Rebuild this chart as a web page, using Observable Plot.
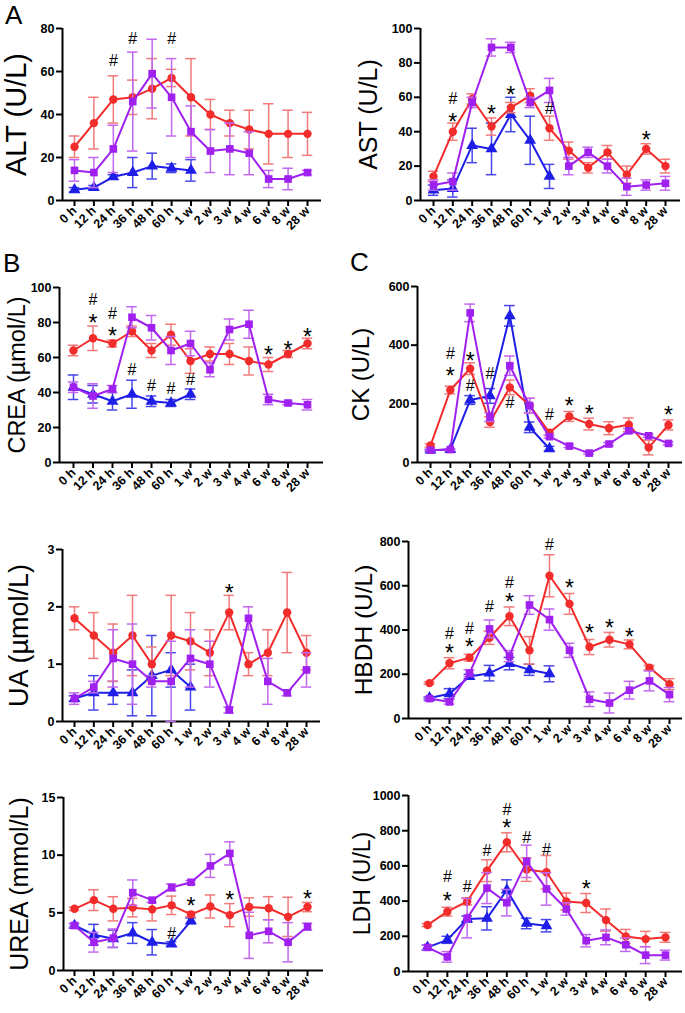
<!DOCTYPE html>
<html><head><meta charset="utf-8">
<script src="https://cdn.jsdelivr.net/npm/d3@7"></script>
<script src="https://cdn.jsdelivr.net/npm/@observablehq/plot@0.6"></script>
<style>
body{margin:0;background:#fff;width:685px;height:1013px;position:relative;overflow:hidden;font-family:"Liberation Sans",Arial,sans-serif}
.panel{position:absolute}
.letter{position:absolute;font-size:26px;line-height:1;color:#000}
.panel g[aria-label$="tick label"] text{font-weight:bold}
</style></head>
<body>
<div class="letter" style="left:5px;top:2px">A</div>
<div class="letter" style="left:3px;top:250px">B</div>
<div class="letter" style="left:350px;top:249px">C</div>
<script>
const categories = ["0 h","12 h","24 h","36 h","48 h","60 h","1 w","2 w","3 w","4 w","6 w","8 w","28 w"];

// ALT
const altRed = [25,36,47,48,52,57,48,40,36,33,31,31,31];
const altRedSD = [5,12,11,8,14,4,18,7,6,9,14,11,10];
const altPurple = [14,13,24,46,59,48,32,23,24,22,10,10,13];
const altPurpleSD = [5,7,11,23,16,18,12,10,12,10,4,5,1];
const altBlue = [5,6,11,13,16,15,14];
const altBlueSD = [1,1,1,7,6,2,5];
const altMarks = [["24 h",65,"#"],["36 h",75,"#"],["60 h",75,"#"]];

// AST
const astRed = [14,40,59,43,54,61,42,29,19,28,15,30,20];
const astRedSD = [3,5,3,5,3,4,7,5,3,4,5,3,4];
const astPurple = [9,11,57,89,89,57,64,20,28,20,8,9,10];
const astPurpleSD = [3,5,3,5,3,3,7,5,3,4,5,3,4];
const astBlue = [6,7,32,30,50,35,14];
const astBlueSD = [3,5,10,15,10,14,7];
const astMarks = [["12 h",59,"#"],["12 h",48,"*"],["36 h",53,"*"],["48 h",64,"*"],["1 w",53,"#"],["8 w",38,"*"]];

// CREA
const creaRed = [64,71,68,75,64,73,58,62,62,58,56,62,68];
const creaRedSD = [3,7,2,3,4,6,7,4,6,8,4,2,3];
const creaPurple = [43,38,42,83,77,64,68,53,76,79,36,34,33];
const creaPurpleSD = [3,7,2,6,7,8,7,4,6,8,3,1,3];
const creaBlue = [43,39,35,39,35,34,39];
const creaBlueSD = [7,5,5,8,3,2,3];
const creaMarks = [["12 h",93,"#"],["12 h",82,"*"],["24 h",85,"#"],["24 h",75,"*"],["36 h",53,"#"],["48 h",44,"#"],["60 h",42,"#"],["1 w",47,"#"],["6 w",64,"*"],["8 w",67,"*"],["28 w",74,"*"]];

// CK
const ckRed = [58,247,320,138,256,194,102,157,131,117,129,51,128];
const ckRedSD = [6,13,20,18,25,25,10,17,20,22,23,25,17];
const ckPurple = [42,44,510,155,330,194,88,56,32,63,108,91,65];
const ckPurpleSD = [3,3,30,15,33,25,5,5,4,5,8,5,5];
const ckBlue = [42,44,213,227,500,120,47];
const ckBlueSD = [3,3,15,25,35,18,8];
const ckMarks = [["12 h",372,"#"],["12 h",311,"*"],["24 h",361,"*"],["24 h",260,"#"],["36 h",302,"#"],["48 h",202,"#"],["1 w",163,"#"],["2 w",208,"*"],["3 w",179,"*"],["28 w",177,"*"]];

// UA
const uaRed = [1.8,1.5,1.2,1.5,1.0,1.5,1.4,1.2,1.9,1.0,1.2,1.9,1.2];
const uaRedSD = [0.2,0.4,0.5,0.7,0.3,0.7,0.5,0.4,0.3,0.2,0.4,0.7,0.3];
const uaPurple = [0.4,0.6,1.1,1.0,0.7,0.7,1.1,1.0,0.2,1.8,0.7,0.5,0.9];
const uaPurpleSD = [0.1,0.1,0.5,0.7,0.1,0.7,0.5,0.4,0.05,0.2,0.4,0.05,0.3];
const uaBlue = [0.4,0.5,0.5,0.5,0.8,0.9,0.6];
const uaBlueSD = [0.05,0.3,0.2,0.4,0.7,0.3,0.4];
const uaMarks = [["3 w",2.32,"*"]];

// HBDH
const hbdhRed = [160,250,275,365,462,308,645,518,323,356,335,230,155];
const hbdhRedSD = [5,25,15,30,42,62,95,47,34,33,20,10,25];
const hbdhPurple = [90,75,205,405,282,513,447,308,87,70,128,170,108];
const hbdhPurpleSD = [5,10,15,40,25,42,48,32,33,45,40,45,32];
const hbdhBlue = [93,112,190,205,248,220,202];
const hbdhBlueSD = [5,23,10,35,28,25,36];
const hbdhMarks = [["12 h",383,"#"],["12 h",315,"*"],["24 h",405,"#"],["24 h",341,"*"],["36 h",506,"#"],["48 h",611,"#"],["48 h",545,"*"],["1 w",785,"#"],["2 w",611,"*"],["3 w",405,"*"],["4 w",431,"*"],["6 w",390,"*"]];

// UREA
const ureaRed = [5.35,6.1,5.35,5.45,5.3,5.65,4.87,5.55,4.8,5.5,5.4,4.65,5.5];
const ureaRedSD = [0.15,0.9,1.05,0.8,1.0,0.8,0.2,1.0,1.0,0.8,1.0,1.7,0.4];
const ureaPurple = [3.9,2.45,2.8,6.75,6.1,7.2,7.65,9.07,10.15,3.05,3.4,2.45,3.8];
const ureaPurpleSD = [0.2,0.85,0.8,1.1,0.2,0.3,0.15,1.0,1.0,2.0,1.0,1.7,0.3];
const ureaBlue = [3.9,3.1,2.75,3.25,2.45,2.3,4.3];
const ureaBlueSD = [0.15,0.9,0.75,0.9,1.1,0.2,0.25];
const ureaMarks = [["60 h",3.2,"#"],["1 w",5.95,"*"],["3 w",6.45,"*"],["28 w",6.6,"*"]];

// LDH
const ldhRed = [264,340,398,573,734,579,564,398,389,292,199,184,194];
const ldhRedSD = [9,25,20,62,54,67,95,48,54,63,40,44,28];
const ldhPurple = [137,83,303,474,391,626,469,355,175,194,152,93,93];
const ldhPurpleSD = [13,30,112,88,75,92,92,35,35,42,38,48,28];
const ldhBlue = [137,180,298,302,463,273,260];
const ldhBlueSD = [13,20,17,66,58,30,35];
const ldhMarks = [["12 h",539,"#"],["12 h",425,"*"],["24 h",478,"#"],["36 h",683,"#"],["48 h",918,"#"],["48 h",839,"*"],["60 h",759,"#"],["1 w",690,"#"],["3 w",493,"*"]];

const COLORS = {red:"#f22b2b", purple:"#a020f0", blue:"#1e1ee6"};
const ERRCOLORS = {red:"#f27a7a", purple:"#c268f0", blue:"#4646ea"};
const SYMBOLS = {red:"circle", purple:"square", blue:"triangle"};

const panels = [
  {label:"ALT (U/L)", left:0, width:340, axisX:62, x0:74, x1:307, xEnd:321, yTop:28, yBottom:200, ymax:80, ticks:[0,20,40,60,80], titleX:16, titleSize:29,
   red:altRed, redSD:altRedSD, purple:altPurple, purpleSD:altPurpleSD, blue:altBlue, blueSD:altBlueSD, marks:altMarks},
  {label:"AST (U/L)", left:340, width:345, axisX:420, x0:433, x1:665, xEnd:680, yTop:28, yBottom:200, ymax:100, ticks:[0,20,40,60,80,100], titleX:368, titleSize:25,
   red:astRed, redSD:astRedSD, purple:astPurple, purpleSD:astPurpleSD, blue:astBlue, blueSD:astBlueSD, marks:astMarks},
  {label:"CREA (µmol/L)", left:0, width:340, axisX:59, x0:73, x1:307, xEnd:323, yTop:287, yBottom:462, ymax:100, ticks:[0,20,40,60,80,100], titleX:17, titleSize:23.5,
   red:creaRed, redSD:creaRedSD, purple:creaPurple, purpleSD:creaPurpleSD, blue:creaBlue, blueSD:creaBlueSD, marks:creaMarks},
  {label:"CK (U/L)", left:340, width:345, axisX:417, x0:430, x1:668, xEnd:682, yTop:286, yBottom:462, ymax:600, ticks:[0,200,400,600], titleX:361, titleSize:24,
   red:ckRed, redSD:ckRedSD, purple:ckPurple, purpleSD:ckPurpleSD, blue:ckBlue, blueSD:ckBlueSD, marks:ckMarks},
  {label:"UA (µmol/L)", left:0, width:340, axisX:62, x0:74, x1:306, xEnd:320, yTop:549, yBottom:721, ymax:3, ticks:[0,1,2,3], titleX:19, titleSize:27,
   red:uaRed, redSD:uaRedSD, purple:uaPurple, purpleSD:uaPurpleSD, blue:uaBlue, blueSD:uaBlueSD, marks:uaMarks},
  {label:"HBDH (U/L)", left:340, width:345, axisX:408, x0:429, x1:669, xEnd:682, yTop:541, yBottom:718, ymax:800, ticks:[0,200,400,600,800], titleX:364, titleSize:24.5,
   red:hbdhRed, redSD:hbdhRedSD, purple:hbdhPurple, purpleSD:hbdhPurpleSD, blue:hbdhBlue, blueSD:hbdhBlueSD, marks:hbdhMarks},
  {label:"UREA (mmol/L)", left:0, width:340, axisX:63, x0:74, x1:307, xEnd:323, yTop:797, yBottom:970, ymax:15, ticks:[0,5,10,15], titleX:19, titleSize:25,
   red:ureaRed, redSD:ureaRedSD, purple:ureaPurple, purpleSD:ureaPurpleSD, blue:ureaBlue, blueSD:ureaBlueSD, marks:ureaMarks},
  {label:"LDH (U/L)", left:340, width:345, axisX:408, x0:427, x1:665, xEnd:682, yTop:795, yBottom:971, ymax:1000, ticks:[0,200,400,600,800,1000], titleX:362, titleSize:23,
   red:ldhRed, redSD:ldhRedSD, purple:ldhPurple, purpleSD:ldhPurpleSD, blue:ldhBlue, blueSD:ldhBlueSD, marks:ldhMarks}
];

function seriesMarks(g, values, sds) {
  const rows = values.map((v, i) => ({i, v, lo: v - sds[i], hi: v + sds[i]}));
  const cap = 0.27;
  return [
    Plot.ruleX(rows, {x: "i", y1: "lo", y2: "hi", stroke: ERRCOLORS[g], strokeWidth: 1.5}),
    Plot.ruleY(rows, {x1: d => d.i - cap, x2: d => d.i + cap, y: "hi", stroke: ERRCOLORS[g], strokeWidth: 1.5}),
    Plot.ruleY(rows, {x1: d => d.i - cap, x2: d => d.i + cap, y: "lo", stroke: ERRCOLORS[g], strokeWidth: 1.5}),
    Plot.lineY(rows, {x: "i", y: "v", stroke: COLORS[g], strokeWidth: 2}),
    Plot.dot(rows, {x: "i", y: "v", symbol: SYMBOLS[g], fill: COLORS[g], stroke: "none", r: g === "red" ? 4.2 : g === "purple" ? 4.3 : 4.4})
  ];
}

for (const p of panels) {
  const step = (p.x1 - p.x0) / (categories.length - 1);
  const dlo = -(p.x0 - p.axisX) / step;
  const dhi = (categories.length - 1) + (p.xEnd - p.x1) / step;
  const mT = 24, mB = 52;
  const marginLeft = p.axisX - p.left;
  const marginRight = p.left + p.width - p.xEnd;
  const height = mT + (p.yBottom - p.yTop) + mB;
  const marks = p.marks.map(([c, y, s]) => ({i: categories.indexOf(c), y, s}));
  const titleRow = [{text: p.label, x: dlo + (p.titleX - p.axisX) / step, y: p.ymax / 2}];
  const chart = Plot.plot({
    width: p.width, height,
    marginLeft, marginRight, marginTop: mT, marginBottom: mB,
    style: {background: "transparent", fontFamily: "'Liberation Sans', Arial, sans-serif", color: "black", overflow: "visible"},
    x: {type: "linear", domain: [dlo, dhi]},
    y: {type: "linear", domain: [0, p.ymax]},
    marks: [
      Plot.axisY({ticks: p.ticks, tickSize: 6, tickPadding: 2, fontSize: 12.5, strokeWidth: 2, label: null, tickFormat: d => String(d)}),
      Plot.axisX({ticks: d3.range(categories.length), tickFormat: i => categories[i], tickRotate: -45, tickSize: 6, tickPadding: 2, fontSize: 12.5, strokeWidth: 2, label: null}),
      Plot.ruleY([0], {stroke: "black", strokeWidth: 2}),
      Plot.ruleX([dlo], {y1: 0, y2: p.ymax, stroke: "black", strokeWidth: 2}),
      ...seriesMarks("blue", p.blue, p.blueSD),
      ...seriesMarks("red", p.red, p.redSD),
      ...seriesMarks("purple", p.purple, p.purpleSD),
      Plot.text(marks.filter(d => d.s === "#"), {x: "i", y: "y", text: "s", fontSize: 16, fill: "black", lineAnchor: "middle"}),
      Plot.text(marks.filter(d => d.s === "*"), {x: "i", y: "y", text: "s", fontSize: 23, fill: "black", lineAnchor: "middle", dy: 5}),
      Plot.text(titleRow, {x: "x", y: "y", text: "text", rotate: -90, fontSize: p.titleSize, fill: "black", lineAnchor: "middle"})
    ]
  });
  const div = document.createElement("div");
  div.className = "panel";
  div.style.left = p.left + "px";
  div.style.top = (p.yTop - mT) + "px";
  div.style.width = p.width + "px";
  div.appendChild(chart);
  document.body.appendChild(div);
}
</script>
</body></html>
